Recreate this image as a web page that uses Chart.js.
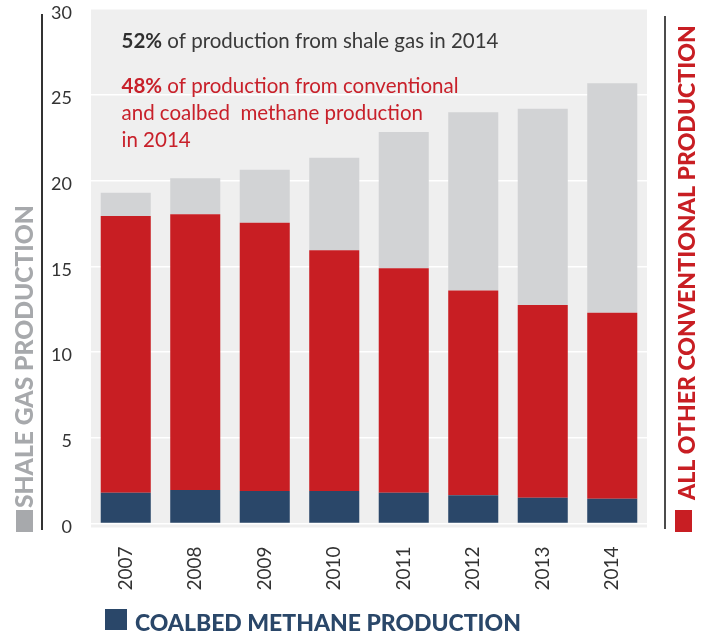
<!DOCTYPE html>
<html><head><meta charset="utf-8">
<script src="https://cdn.jsdelivr.net/npm/chart.js@4/dist/chart.umd.min.js"></script>
<style>html,body{margin:0;padding:0;background:#fff}canvas{display:block}</style>
</head><body>
<canvas id="c" width="705" height="634"></canvas>
<script>
// ---- data ----
const years = ['2007','2008','2009','2010','2011','2012','2013','2014'];
const coalbed = [1.8, 1.95, 1.9, 1.9, 1.8, 1.65, 1.5, 1.45];
const conventional = [16.15, 16.1, 15.65, 14.05, 13.1, 11.95, 11.25, 10.85];
const shale = [1.35, 2.1, 3.1, 5.4, 7.95, 10.4, 11.45, 13.4];
const yTickValues = [0, 5, 10, 15, 20, 25, 30];
const seriesNames = ['COALBED METHANE PRODUCTION', 'ALL OTHER CONVENTIONAL PRODUCTION', 'SHALE GAS PRODUCTION'];
const noteShale = ['52%', ' of production from shale gas in 2014'];
const noteConv = [['48%', ' of production from conventional'], ['', 'and coalbed  methane production'], ['', 'in 2014']];

const C_BLUE = '#2a4769', C_RED = '#c81e23', C_GRAY = '#d2d3d5', C_LEG_GRAY = '#a7a9ac';
const FONT = 'Lato, "Open Sans", sans-serif';
const LEG_WEIGHT = '900';

function fitFont(ctx, text, weight, target, base) {
  ctx.font = weight + ' ' + base + 'px ' + FONT;
  const w = ctx.measureText(text).width;
  const size = base * target / w;
  ctx.font = weight + ' ' + size.toFixed(2) + 'px ' + FONT;
  return size;
}

const deco = {
  id: 'deco',
  beforeDraw(chart) {
    const {ctx, chartArea: a} = chart;
    ctx.save();
    ctx.fillStyle = '#efefef';
    ctx.fillRect(a.left, a.top, a.right - a.left, a.bottom - a.top + 4);
    ctx.restore();
  },
  afterDraw(chart) {
    const {ctx} = chart;
    ctx.save();
    // vertical rules
    ctx.strokeStyle = '#333';
    ctx.lineWidth = 2;
    ctx.beginPath(); ctx.moveTo(42, 14); ctx.lineTo(42, 530); ctx.stroke();
    ctx.strokeStyle = '#111';
    ctx.lineWidth = 1.5;
    ctx.beginPath(); ctx.moveTo(665, 16); ctx.lineTo(665, 529); ctx.stroke();

    // left legend (shale)
    ctx.fillStyle = C_LEG_GRAY;
    ctx.fillRect(16, 510, 17, 22);
    ctx.save();
    ctx.translate(24.5, 508);
    ctx.rotate(-Math.PI / 2);
    fitFont(ctx, seriesNames[2], LEG_WEIGHT, 303, 24);
    ctx.textAlign = 'left'; ctx.textBaseline = 'middle';
    ctx.fillText(seriesNames[2], 0, 1);
    ctx.restore();

    // right legend (conventional)
    ctx.fillStyle = C_RED;
    ctx.fillRect(675, 510, 17, 22);
    ctx.save();
    ctx.translate(686.5, 500);
    ctx.rotate(-Math.PI / 2);
    fitFont(ctx, seriesNames[1], LEG_WEIGHT, 475, 24);
    ctx.textAlign = 'left'; ctx.textBaseline = 'middle';
    ctx.fillText(seriesNames[1], 0, 1);
    ctx.restore();

    // bottom legend (coalbed)
    ctx.fillStyle = C_BLUE;
    ctx.fillRect(105, 609, 22, 21);
    fitFont(ctx, seriesNames[0], LEG_WEIGHT, 386, 24);
    ctx.textAlign = 'left'; ctx.textBaseline = 'alphabetic';
    ctx.fillText(seriesNames[0], 135, 631);

    // annotations
    ctx.textBaseline = 'alphabetic';
    let x = 121.5;
    ctx.font = 'bold 20.5px ' + FONT; ctx.fillStyle = '#2f2f2f';
    ctx.fillText(noteShale[0], x, 48.3);
    x += ctx.measureText(noteShale[0]).width;
    ctx.font = '20.5px ' + FONT; ctx.fillStyle = '#3a3a3a';
    ctx.fillText(noteShale[1], x, 48.3);

    ctx.fillStyle = '#c8202a';
    noteConv.forEach((ln, i) => {
      let xx = 121.5;
      const y = 93.3 + i * 26.7;
      if (ln[0]) {
        ctx.font = 'bold 20.5px ' + FONT;
        ctx.fillText(ln[0], xx, y);
        xx += ctx.measureText(ln[0]).width;
      }
      ctx.font = '20.5px ' + FONT;
      ctx.fillText(ln[1], xx, y);
    });
    ctx.restore();
  }
};

new Chart(document.getElementById('c'), {
  type: 'bar',
  data: {
    labels: years,
    datasets: [
      {label: seriesNames[0], data: coalbed, backgroundColor: C_BLUE},
      {label: seriesNames[1], data: conventional, backgroundColor: C_RED},
      {label: seriesNames[2], data: shale, backgroundColor: C_GRAY}
    ]
  },
  options: {
    responsive: false,
    animation: false,
    events: [],
    layout: {padding: {top: 9.5, right: 58, bottom: 0, left: 0}},
    datasets: {bar: {categoryPercentage: 1, barPercentage: 0.72, borderWidth: 0}},
    plugins: {legend: {display: false}, tooltip: {enabled: false}},
    scales: {
      x: {
        stacked: true,
        grid: {display: false, drawTicks: false},
        border: {display: false},
        ticks: {minRotation: 90, maxRotation: 90, autoSkip: false, padding: 23, color: '#333', font: {family: FONT, size: 19}},
        afterFit(s) { s.height = 110.5; s.paddingLeft = 0; s.paddingRight = 0; s.paddingTop = 0; s.paddingBottom = 0; }
      },
      y: {
        stacked: true,
        min: 0, max: 30,
        afterBuildTicks(s) { s.ticks = yTickValues.map(v => ({value: v})); },
        grid: {drawTicks: false, color: c => (c.tick && c.tick.value === 30) ? 'rgba(0,0,0,0)' : '#ffffff', lineWidth: 1.5},
        border: {display: false},
        ticks: {padding: 19, labelOffset: 3.5, color: '#333', font: {family: FONT, size: 18}},
        afterFit(s) { s.width = 91; s.paddingTop = 0; s.paddingBottom = 0; s.paddingLeft = 0; s.paddingRight = 0; }
      }
    }
  },
  plugins: [deco]
});
</script>
</body></html>
